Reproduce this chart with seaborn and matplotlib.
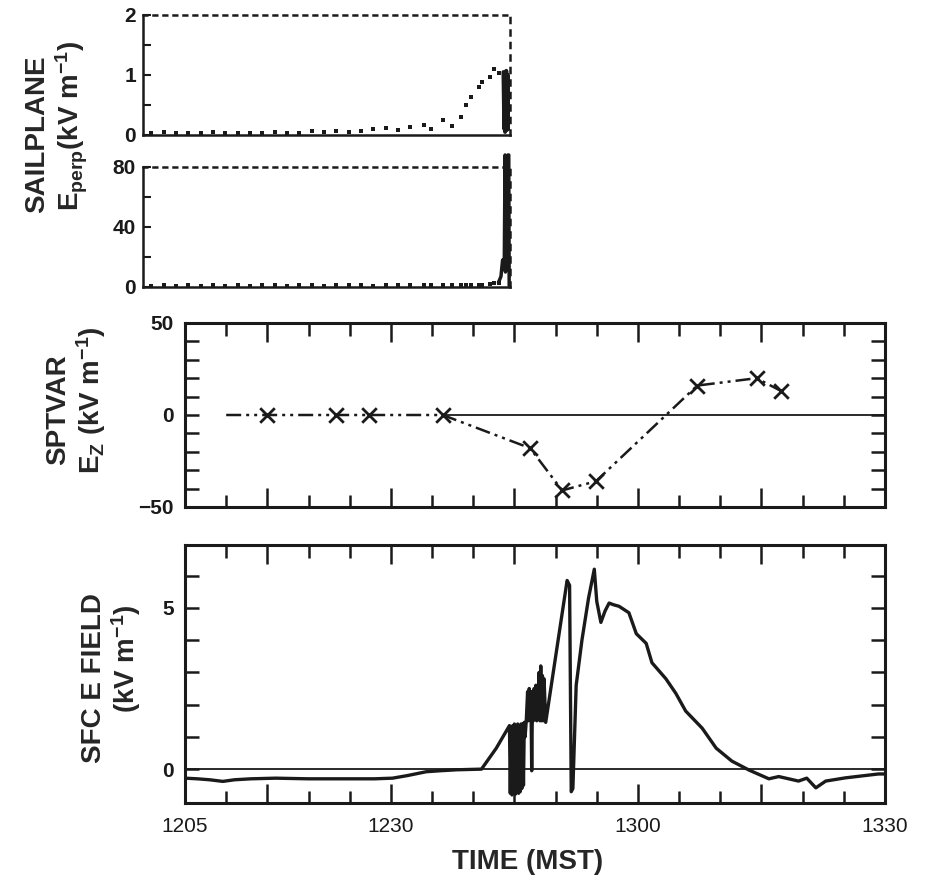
import numpy as np
import pandas as pd
import seaborn as sns
import matplotlib.pyplot as plt
from matplotlib.ticker import MultipleLocator, FixedLocator, NullFormatter

# ---- data (time in minutes after 1200 MST) ----

# sailplane E_perp, top panels (minutes along the flight record)
sail_t = [1.0, 2.5, 4.0, 5.5, 7.0, 8.5, 10.0, 11.5, 13.0, 14.5, 16.0, 17.5,
          19.0, 20.5, 22.0, 23.5, 25.0, 26.5, 28.0, 29.5, 31.0, 32.5, 34.2,
          35.0, 36.4, 37.5, 38.6, 39.2, 39.8, 40.8, 41.2, 42.2, 42.7, 43.3]
sail_e = [0.03, 0.05, 0.03, 0.04, 0.03, 0.05, 0.03, 0.04, 0.03, 0.03, 0.05,
          0.04, 0.03, 0.06, 0.05, 0.07, 0.05, 0.06, 0.1, 0.12, 0.08, 0.14, 0.17,
          0.1, 0.25, 0.15, 0.3, 0.5, 0.63, 0.8, 0.88, 0.96, 1.1, 1.04]
sail_burst_t = [43.8, 43.9, 43.95, 44.0, 44.05, 44.1, 44.15, 44.2, 44.25,
                44.3, 44.35, 44.4, 44.45]
sail_burst_e = [1.05, 0.1, 1.0, 0.05, 0.95, 0.15, 1.07, 0.08, 0.9, 0.2,
                1.0, 0.1, 0.6]

sail2_e = [1.0, 1.5, 0.8, 1.2, 1.0, 1.6, 0.9, 1.3, 1.0, 1.2, 1.5, 1.0, 1.2,
           1.4, 1.0, 1.3, 1.2, 1.5, 1.0, 1.4, 1.2, 1.5, 1.3, 1.2, 1.6, 1.4,
           1.3, 1.5, 1.2, 1.6, 1.4, 1.7, 2.5, 3.0]
sail2_burst_t = [43.2, 43.5, 43.7, 43.9, 44.0, 44.05, 44.1, 44.15, 44.2,
                 44.25, 44.3, 44.35, 44.45, 44.5]
sail2_burst_e = [3, 7, 18, 12, 88, 10, 38, 14, 30, 12, 25, 88, 88, 1]

# SPTVAR balloon E_z
sptvar_t = [10, 15, 23.3, 27.4, 36.3, 46.9, 50.8, 54.9, 67.2, 74.4, 77.4]
sptvar_ez = [0, 0, 0, 0, 0, -18, -41, -36, 16, 20, 13]

# surface E field
sfc_t = [5, 6.5, 8, 9.6, 11, 13, 16, 20, 24, 28, 30.2, 32, 34.3, 36, 38, 41,
         42.8, 44.4,
         44.5, 44.6, 44.7, 44.8, 44.9, 45.0, 45.1, 45.2, 45.3, 45.4, 45.5,
         45.6, 45.7, 45.8, 45.9, 46.0, 46.1, 46.2, 46.3,
         46.45, 46.6, 46.7, 46.8, 46.9, 47.0, 47.1, 47.2, 47.3, 47.4, 47.5,
         47.6, 47.7, 47.8, 47.9, 48.0, 48.1, 48.2, 48.3, 48.4, 48.5, 48.6,
         48.8, 51.4, 51.7, 51.9, 52.1, 52.5, 53.2, 54.0, 54.7, 55.0, 55.5,
         56.0, 56.5, 57.0, 57.7, 58.9, 59.8, 61.0, 61.7, 63.4, 64.6, 65.8,
         67.8, 69.5, 71.4, 73.5, 75.9, 77.1, 79.5, 80.5, 81.6, 82.8, 85.2,
         89.2, 90]
sfc_e = [-0.28, -0.3, -0.33, -0.38, -0.33, -0.3, -0.28, -0.3, -0.3, -0.3,
         -0.28, -0.2, -0.08, -0.05, -0.02, 0.0,
         0.65, 1.35,
         -0.75, 1.3, -0.8, 1.35, -0.7, 1.4, -0.78, 1.3, -0.7, 1.4, -0.75,
         1.35, -0.7, 1.4, -0.6, 1.4, -0.5, 1.45, 1.0,
         1.55, 2.4, 1.5, 2.5, 1.6, 2.4, -0.05, 2.4, 1.5, 2.5, 1.6,
         2.6, 1.5, 2.6, 1.6, 3.0, 1.5, 3.2, 1.5, 2.9, 1.5, 2.8,
         1.45, 5.85, 5.7, -0.7, -0.6, 2.6, 4.0, 5.3, 6.2, 5.2, 4.55,
         4.9, 5.15, 5.1, 5.05, 4.85, 4.2, 3.9, 3.3, 2.8, 2.35, 1.8,
         1.27, 0.65, 0.25, -0.03, -0.3, -0.23, -0.37, -0.28, -0.58, -0.37,
         -0.27, -0.15, -0.15]

time_ticks = [5, 15, 30, 45, 60, 75, 90]
time_labels = ['1205', '', '1230', '', '1300', '', '1330']

sns.set_theme(style="ticks")
plt.rcParams['font.family'] = ['Liberation Sans', 'DejaVu Sans']
plt.rcParams['mathtext.fontset'] = 'custom'
plt.rcParams['mathtext.rm'] = 'Liberation Sans:bold'
plt.rcParams['mathtext.it'] = 'Liberation Sans:bold'
plt.rcParams['mathtext.bf'] = 'Liberation Sans:bold'

W, H = 933, 881
fig = plt.figure(figsize=(W / 100, H / 100), dpi=100)


def box(x0, y0, x1, y1):
    # pixel box -> figure fraction
    return [x0 / W, 1 - y1 / H, (x1 - x0) / W, (y1 - y0) / H]


ax1 = fig.add_axes(box(143, 15, 510, 135))
ax2 = fig.add_axes(box(143, 167, 510, 287))
ax3 = fig.add_axes(box(185, 323, 885, 507))
ax4 = fig.add_axes(box(185, 545, 885, 803))

# ---- sailplane panels ----
sns.scatterplot(x=sail_t, y=sail_e, ax=ax1, color='k', marker='s', s=6,
                linewidth=0)
sns.lineplot(x=sail_burst_t, y=sail_burst_e, ax=ax1, color='k', lw=2.8,
             sort=False, estimator=None)
ax1.set_ylim(0, 2)
ax1.yaxis.set_major_locator(FixedLocator([0, 1, 2]))
ax1.yaxis.set_minor_locator(FixedLocator([0.5, 1.5]))

sns.scatterplot(x=sail_t, y=sail2_e, ax=ax2, color='k', marker='s', s=5,
                linewidth=0)
sns.lineplot(x=sail2_burst_t, y=sail2_burst_e, ax=ax2, color='k', lw=2.5,
             sort=False, estimator=None)
for line in ax2.lines:
    line.set_clip_on(False)
ax2.set_ylim(0, 80)
ax2.yaxis.set_major_locator(FixedLocator([0, 40, 80]))
ax2.yaxis.set_minor_locator(FixedLocator([20, 60]))

for ax in (ax1, ax2):
    ax.set_xlim(0, 44.6)
    ax.set_xticks([])
    ax.spines['top'].set_linestyle((0, (1.5, 2.5)))
    ax.spines['right'].set_linestyle((0, (2, 3)))
    for s in ax.spines.values():
        s.set_linewidth(1.8)
        s.set_color('k')
    ax.tick_params(axis='y', direction='in', length=6, width=1.5, which='both',
                   labelsize=15, pad=5, colors='k')
    for t in ax.get_yticklabels():
        t.set_fontweight('bold')

# ---- SPTVAR panel ----
sns.lineplot(x=sptvar_t, y=sptvar_ez, ax=ax3, color='k', lw=1.8,
             linestyle=(0, (6, 2, 1.2, 2, 1.2, 2)), sort=False, estimator=None)
sns.scatterplot(x=sptvar_t[1:], y=sptvar_ez[1:], ax=ax3, color='k',
                marker='x', s=110, linewidth=2.0, zorder=5)
ax3.hlines(0, sptvar_t[4], 90, color='k', lw=1.3)
ax3.set_ylim(-50, 50)
ax3.yaxis.set_major_locator(FixedLocator([-50, 0, 50]))
ax3.yaxis.set_minor_locator(FixedLocator([-40, -30, -20, -10, 10, 20, 30, 40]))
ax3.set_yticklabels(['\u221250', '0', '50'])

# ---- surface field panel ----
sns.lineplot(x=sfc_t, y=sfc_e, ax=ax4, color='k', lw=2.4, sort=False,
             estimator=None)
ax4.axhline(0, color='k', lw=1.3)
ax4.set_ylim(-1.05, 6.95)
ax4.yaxis.set_major_locator(FixedLocator([0, 5]))
ax4.yaxis.set_minor_locator(FixedLocator([1, 2, 3, 4, 6]))

for ax in (ax3, ax4):
    ax.set_xlim(5, 90)
    ax.xaxis.set_major_locator(FixedLocator(time_ticks))
    ax.xaxis.set_minor_locator(MultipleLocator(5))
    for s in ax.spines.values():
        s.set_linewidth(2.2)
        s.set_color('k')
    ax.tick_params(axis='x', direction='in', top=True, bottom=True,
                   which='major', length=14, width=1.8, colors='k')
    ax.tick_params(axis='x', direction='in', top=True, bottom=True,
                   which='minor', length=9, width=1.8, colors='k')
    ax.tick_params(axis='y', direction='in', left=True, right=True,
                   which='both', length=10, width=1.8, labelsize=15, pad=8,
                   colors='k')
    for t in ax.get_yticklabels():
        t.set_fontweight('bold')

ax3.xaxis.set_major_formatter(NullFormatter())
ax4.set_xticklabels(time_labels)
ax4.tick_params(axis='x', labelsize=15, pad=10)

# ---- axis titles ----
lab = dict(rotation=90, ha='center', va='center', fontweight='bold',
           fontsize=20)
fig.text(37 / W, 1 - 134 / H, 'SAILPLANE', **lab)
fig.text(72 / W, 1 - 126 / H, r'E$_{perp}$(kV m$^{-1}$)', **lab)
fig.text(58 / W, 1 - 410 / H, 'SPTVAR', **lab)
fig.text(91 / W, 1 - 400 / H, r'E$_{Z}$ (kV m$^{-1}$)', **lab)
fig.text(94 / W, 1 - 678 / H, 'SFC E FIELD', **lab)
fig.text(126 / W, 1 - 659 / H, r'(kV m$^{-1}$)', **lab)
fig.text(528 / W, 1 - 862 / H, 'TIME (MST)', ha='center', va='center',
         fontweight='bold', fontsize=20)

fig.savefig('out.png', dpi=100)
